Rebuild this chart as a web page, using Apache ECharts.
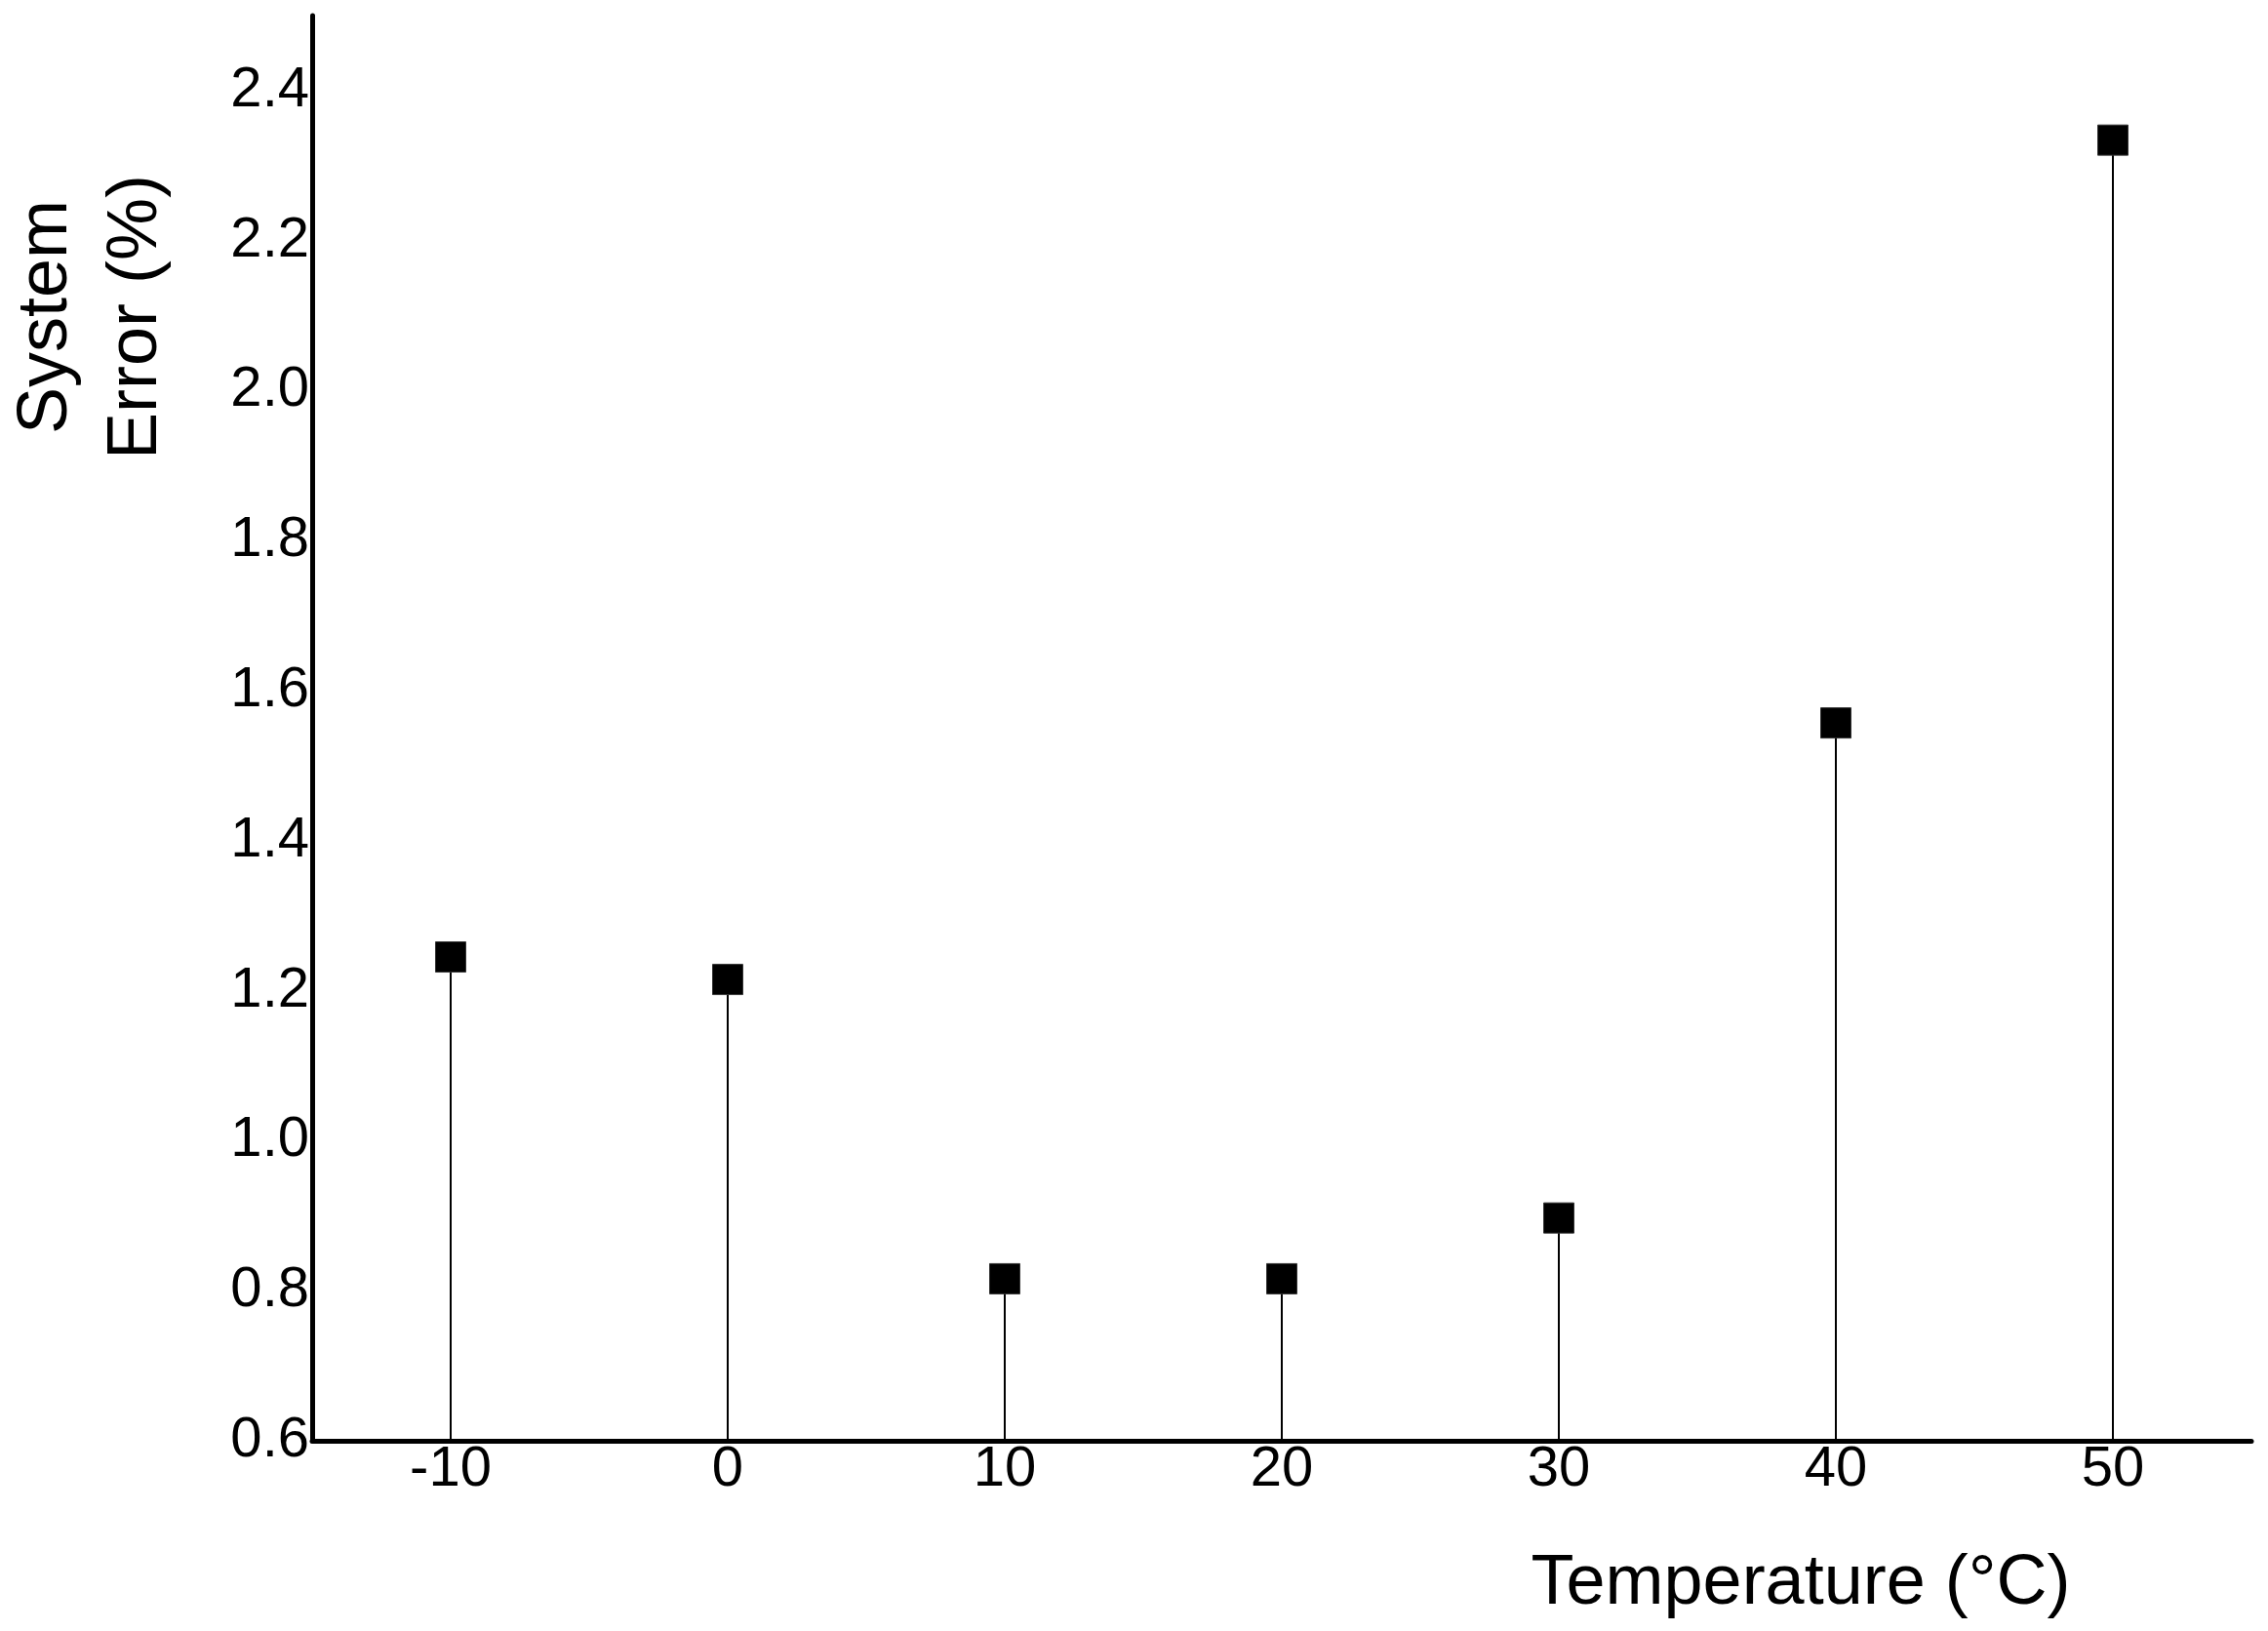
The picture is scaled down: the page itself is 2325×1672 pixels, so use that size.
<!DOCTYPE html>
<html>
<head>
<meta charset="utf-8">
<script src="https://cdn.jsdelivr.net/npm/echarts@6/dist/echarts.min.js"></script>
<style>
html, body { margin: 0; padding: 0; background: #fff; }
#errorChart { width: 2325px; height: 1672px; }
</style>
</head>
<body>
<div id="errorChart"></div>
<script>
// 温度 (°C)
var temperatures = [-10, 0, 10, 20, 30, 40, 50];
// 系统误差 (%)
var systemErrors = [1.245, 1.215, 0.816, 0.816, 0.897, 1.557, 2.334];
// 刻度标签
var xTickValues = [-10, 0, 10, 20, 30, 40, 50];
var yTickValues = [0.6, 0.8, 1.0, 1.2, 1.4, 1.6, 1.8, 2.0, 2.2, 2.4];

var xMin = -15, xMax = 55;
var yMin = 0.6, yMax = 2.5;
var fontName = '"Liberation Sans", Arial, sans-serif';

var points = temperatures.map(function (t, i) {
  return [t, systemErrors[i]];
});

var chart = echarts.init(document.getElementById('errorChart'));

var option = {
  backgroundColor: '#fff',
  animation: false,
  grid: {
    left: 320,
    top: 16,
    right: 17,
    bottom: 195,
    containLabel: false
  },
  xAxis: {
    type: 'value',
    min: xMin,
    max: xMax,
    axisLine: { show: true, onZero: false, lineStyle: { color: '#000', width: 5 } },
    axisTick: { show: false },
    splitLine: { show: false },
    axisLabel: {
      customValues: xTickValues,
      margin: 1,
      color: '#000',
      fontSize: 58,
      fontFamily: fontName
    }
  },
  yAxis: {
    type: 'value',
    min: yMin,
    max: yMax,
    axisLine: { show: true, onZero: false, lineStyle: { color: '#000', width: 5 } },
    axisTick: { show: false },
    splitLine: { show: false },
    axisLabel: {
      customValues: yTickValues,
      margin: 3,
      color: '#000',
      fontSize: 58,
      fontFamily: fontName,
      formatter: function (v) {
        return v.toFixed(1);
      }
    }
  },
  graphic: [
    {
      type: 'text',
      x: 94,
      y: 325,
      rotation: Math.PI / 2,
      style: {
        text: 'System\nError (%)',
        fontSize: 72,
        fontFamily: fontName,
        lineHeight: 92,
        fill: '#000',
        align: 'center',
        verticalAlign: 'middle'
      }
    },
    {
      type: 'text',
      x: 1846,
      y: 1624,
      style: {
        text: 'Temperature (°C)',
        fontSize: 72,
        fontFamily: fontName,
        fill: '#000',
        align: 'center',
        verticalAlign: 'middle'
      }
    }
  ],
  series: [
    {
      // 竖线
      type: 'custom',
      data: points,
      encode: { x: 0, y: 1 },
      z: 2,
      renderItem: function (params, api) {
        var top = api.coord([api.value(0), api.value(1)]);
        var base = api.coord([api.value(0), yMin]);
        return {
          type: 'line',
          shape: { x1: top[0], y1: top[1], x2: base[0], y2: base[1] },
          style: { stroke: '#000', lineWidth: 2 }
        };
      }
    },
    {
      // 方块
      type: 'scatter',
      data: points,
      symbol: 'rect',
      symbolSize: 31,
      z: 3,
      itemStyle: { color: '#000', borderColor: '#333', borderWidth: 1, opacity: 1 }
    }
  ]
};

chart.setOption(option);
window.onresize = chart.resize;
</script>
</body>
</html>
